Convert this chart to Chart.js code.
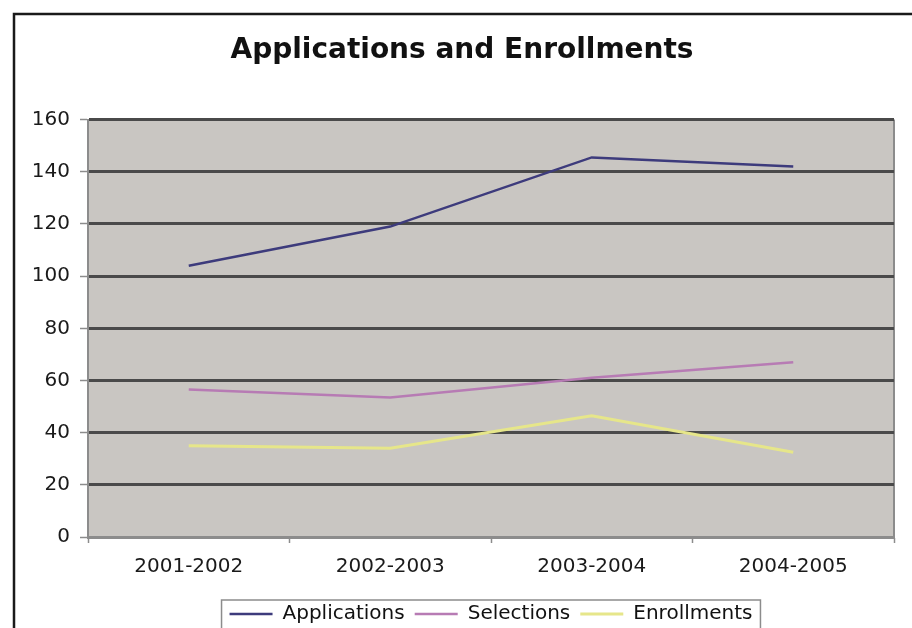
<!DOCTYPE html>
<html>
<head>
<meta charset="utf-8">
<script src="https://cdn.jsdelivr.net/npm/chart.js@4/dist/chart.umd.min.js"></script>
<style>
  html, body { margin: 0; padding: 0; background: #fff; overflow: hidden; }
  #wrap { position: relative; width: 912px; height: 634px; }
</style>
</head>
<body>
<div id="wrap"><canvas id="chart"></canvas></div>
<script>
// values
const categories = ['2001-2002', '2002-2003', '2003-2004', '2004-2005'];
const applications = [104, 119, 145.5, 142];
const selections = [56.5, 53.5, 61, 67];
const enrollments = [35, 34, 46.5, 32.5];
const yMin = 0, yMax = 160, yStep = 20;

const FONT = '"DejaVu Sans", Verdana, sans-serif';

// white frame with the dark border, gray plot area
const framePlugin = {
  id: 'frame',
  beforeDraw(chart) {
    const {ctx, chartArea: a} = chart;
    ctx.save();
    ctx.fillStyle = '#fff';
    ctx.fillRect(0, 0, chart.width, chart.height);
    ctx.strokeStyle = '#1a1a1a';
    ctx.lineWidth = 2.5;
    ctx.strokeRect(14, 14, chart.width + 40, chart.height + 40);
    ctx.fillStyle = '#c9c6c2';
    ctx.fillRect(a.left, a.top, a.right - a.left, a.bottom - a.top);
    ctx.strokeStyle = '#8c8c8c';
    ctx.lineWidth = 2;
    ctx.beginPath();
    ctx.moveTo(a.right, a.top);
    ctx.lineTo(a.right, a.bottom);
    ctx.stroke();
    ctx.restore();
  }
};

// legend centred under the plot, with a thin box round it
const legendBoxPlugin = {
  id: 'legendBox',
  afterLayout(chart) {
    const lg = chart.legend;
    lg.left = chart.chartArea.left;
    lg.right = chart.chartArea.right;
  },
  afterDraw(chart) {
    const boxes = chart.legend.legendHitBoxes;
    if (!boxes || !boxes.length) return;
    const left = Math.min(...boxes.map(b => b.left)) - 8;
    const right = Math.max(...boxes.map(b => b.left + b.width)) + 8;
    const top = boxes[0].top - 4;
    const ctx = chart.ctx;
    ctx.save();
    ctx.strokeStyle = '#8c8c8c';
    ctx.lineWidth = 1.5;
    ctx.strokeRect(left, top, right - left, chart.height);
    ctx.restore();
  }
};

const line = (label, data, color, width) => ({
  label, data,
  borderColor: color,
  backgroundColor: color,
  borderWidth: width,
  pointRadius: 0,
  tension: 0
});

new Chart(document.getElementById('chart'), {
  type: 'line',
  data: {
    labels: categories,
    datasets: [
      line('Applications', applications, '#3d3b7c', 2.5),
      line('Selections', selections, '#b77bb4', 2.5),
      line('Enrollments', enrollments, '#e6e68a', 3)
    ]
  },
  options: {
    responsive: true,
    maintainAspectRatio: false,
    animation: false,
    layout: { padding: { left: 30, right: 18, top: 0, bottom: 0 } },
    plugins: {
      title: {
        display: true,
        text: 'Applications and Enrollments',
        color: '#111',
        font: { family: FONT, size: 28, weight: 'bold' },
        padding: { top: 34, bottom: 52 }
      },
      legend: {
        position: 'bottom',
        labels: {
          color: '#111',
          font: { family: FONT, size: 20 },
          boxWidth: 43,
          boxHeight: 0,
          padding: 10
        }
      },
      tooltip: { enabled: false }
    },
    scales: {
      x: {
        offset: true,
        grid: { offset: true, drawOnChartArea: false, tickLength: 6, tickColor: '#8c8c8c', tickWidth: 1.5 },
        border: { color: '#8c8c8c', width: 2 },
        ticks: { color: '#1a1a1a', font: { family: FONT, size: 20 }, padding: 12, maxRotation: 0 },
        afterFit(scale) { scale.height = 57; }
      },
      y: {
        min: yMin,
        max: yMax,
        grid: {
          color: c => (c.tick && c.tick.value === 0 ? '#8c8c8c' : '#4a4a4a'),
          lineWidth: 3,
          tickLength: 8,
          tickColor: '#8c8c8c',
          tickWidth: 1.5
        },
        border: { color: '#8c8c8c', width: 2 },
        ticks: { stepSize: yStep, color: '#1a1a1a', font: { family: FONT, size: 20 }, padding: 10 },
        afterFit(scale) { scale.width = 58; }
      }
    }
  },
  plugins: [framePlugin, legendBoxPlugin]
});
</script>
</body>
</html>
